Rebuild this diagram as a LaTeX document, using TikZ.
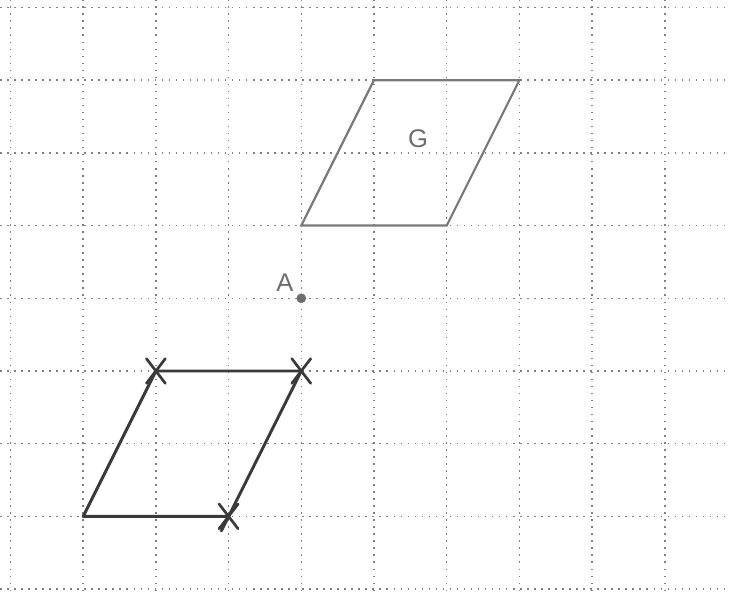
\documentclass[tikz,border=0pt]{standalone}
\usepackage{fontspec}
\setmainfont{Liberation Sans}
\usetikzlibrary{calc}
\definecolor{gridc}{HTML}{808080}
\definecolor{gshape}{HTML}{7A7A7A}
\definecolor{dshape}{HTML}{3A3A3A}
\definecolor{labc}{HTML}{6E6E6E}
\tikzset{
  gridline/.style={gridc, line width=0.55pt, dash pattern=on 0.6pt off 2.15pt},
  gpara/.style={gshape, line width=0.85pt, line join=miter},
  dpara/.style={dshape, line width=1.15pt, line join=round},
  crossmark/.style={dshape, line width=1.05pt, line cap=round},
  lab/.style={labc, font=\fontsize{10}{12}\selectfont, inner sep=0pt},
}
\begin{document}
\begin{tikzpicture}[x=1cm,y=1cm]
\useasboundingbox (-0.144,-0.028) rectangle (9.883,8.103);
\fill[white] (-0.144,-0.028) rectangle (9.883,8.103);
% grid
\foreach \i in {0,...,9} \draw[gridline] (\i,-0.028) -- (\i,8.103);
\foreach \j in {0,...,8} \draw[gridline] (-0.144,\j) -- (9.883,\j);
% parallelogram G
\coordinate (g1) at (4,5);
\coordinate (g2) at (6,5);
\coordinate (g3) at (7,7);
\coordinate (g4) at (5,7);
\draw[gpara] (g1) -- (g2) -- (g3) -- (g4) -- cycle;
\node[lab] (G) at (5.605,6.20) {G};
% point A
\coordinate (A) at (4,4);
\fill[labc] (A) circle (1.9pt);
\node[lab] (Alab) at (3.776,4.21) {A};
% constructed parallelogram
\coordinate (p1) at (1,1);
\coordinate (p2) at (3,1);
\coordinate (p3) at (4,3);
\coordinate (p4) at (2,3);
\draw[dpara] (p1) -- (p2) -- (p3) -- (p4) -- cycle;
\draw[dpara, line cap=round] (p2) -- ($(p2)!-0.1!(p3)$);
% crosses
\foreach \c in {p2,p3,p4}{
  \draw[crossmark] ([shift={(-0.13,-0.17)}]\c) -- ([shift={(0.13,0.17)}]\c);
  \draw[crossmark] ([shift={(-0.13,0.17)}]\c) -- ([shift={(0.13,-0.17)}]\c);
}
\end{tikzpicture}
\end{document}
